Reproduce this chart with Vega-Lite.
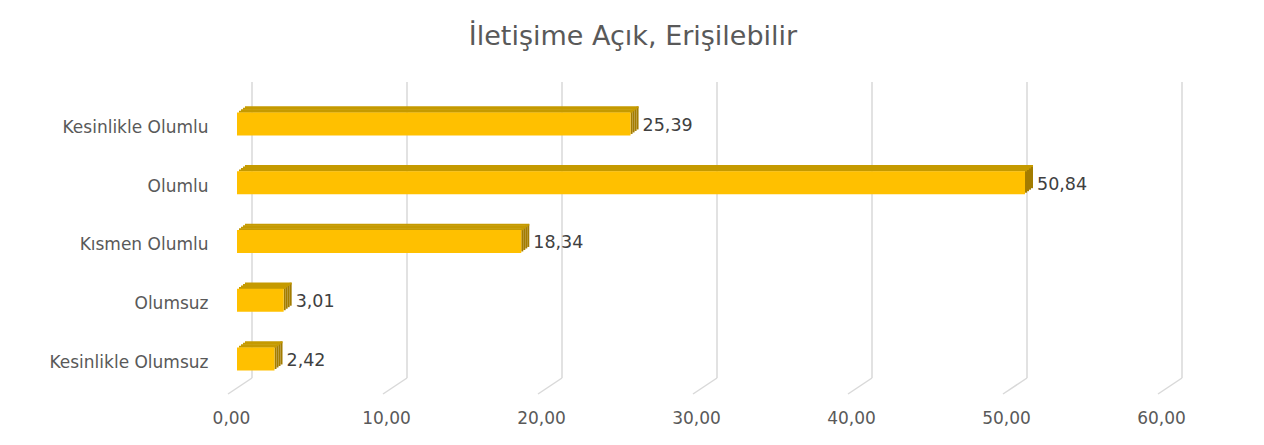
{
  "$schema": "https://vega.github.io/schema/vega-lite/v6.json",
  "width": 930,
  "height": 312,
  "autosize": {"type": "none"},
  "padding": {"left": 237, "top": 82, "right": 97, "bottom": 51},
  "background": "white",
  "config": {
    "view": {"stroke": null},
    "font": "DejaVu Sans",
    "locale": {"number": {"decimal": ",", "thousands": ".", "grouping": [3], "currency": ["", " TL"]}}
  },
  "title": {
    "text": "İletişime Açık, Erişilebilir",
    "fontSize": 27,
    "fontWeight": "normal",
    "color": "#595959",
    "font": "DejaVu Sans",
    "anchor": "middle",
    "frame": "group",
    "dx": -69,
    "offset": 30
  },
  "datasets": {
    "bars": [
      {"kategori": "Kesinlikle Olumlu", "yuzde": 25.39},
      {"kategori": "Olumlu", "yuzde": 50.84},
      {"kategori": "Kısmen Olumlu", "yuzde": 18.34},
      {"kategori": "Olumsuz", "yuzde": 3.01},
      {"kategori": "Kesinlikle Olumsuz", "yuzde": 2.42}
    ],
    "grid": [
      {"g": 0}, {"g": 10}, {"g": 20}, {"g": 30}, {"g": 40}, {"g": 50}, {"g": 60}
    ]
  },
  "resolve": {"scale": {"y": "independent"}},
  "layer": [
    {
      "data": {"name": "grid"},
      "layer": [
        {
          "mark": {"type": "rule", "color": "#d9d9d9", "strokeWidth": 1.5, "xOffset": 15, "x2Offset": 15, "y2Offset": -16},
          "encoding": {
            "x": {
              "field": "g", "type": "quantitative", "scale": {"domain": [0, 60], "nice": false},
              "axis": {
                "title": null, "grid": false, "domain": false, "ticks": false,
                "values": [0, 10, 20, 30, 40, 50, 60], "format": ".2f",
                "labelPadding": 16, "labelOffset": -6, "labelFontSize": 17, "labelFlush": false,
                "labelColor": "#595959", "labelFont": "DejaVu Sans"
              }
            },
            "y": {"datum": 1, "type": "quantitative", "scale": {"domain": [0, 1], "nice": false}, "axis": null},
            "y2": {"datum": 0}
          }
        },
        {
          "mark": {"type": "rule", "color": "#d9d9d9", "strokeWidth": 1.5, "xOffset": -9, "x2Offset": 15, "y2Offset": -16},
          "encoding": {
            "x": {
              "field": "g", "type": "quantitative", "scale": {"domain": [0, 60], "nice": false},
              "axis": {
                "title": null, "grid": false, "domain": false, "ticks": false,
                "values": [0, 10, 20, 30, 40, 50, 60], "format": ".2f",
                "labelPadding": 16, "labelOffset": -6, "labelFontSize": 17, "labelFlush": false,
                "labelColor": "#595959", "labelFont": "DejaVu Sans"
              }
            },
            "x2": {"field": "g"},
            "y": {"datum": 0, "type": "quantitative", "scale": {"domain": [0, 1], "nice": false}, "axis": null},
            "y2": {"datum": 0}
          }
        }
      ]
    },
    {
      "data": {"name": "bars"},
      "encoding": {
        "y": {
          "field": "kategori",
          "type": "nominal",
          "sort": null,
          "scale": {"paddingInner": 0, "paddingOuter": 0.155, "align": 0.69},
          "axis": {
            "title": null,
            "domain": false,
            "ticks": false,
            "labelPadding": 29,
            "labelOffset": 4,
            "labelFontSize": 17,
            "labelColor": "#595959",
            "labelFont": "DejaVu Sans"
          }
        },
        "x": {
          "field": "yuzde",
          "type": "quantitative",
          "scale": {"domain": [0, 60], "nice": false},
          "axis": {
            "title": null, "grid": false, "domain": false, "ticks": false,
            "values": [0, 10, 20, 30, 40, 50, 60], "format": ".2f",
            "labelPadding": 16, "labelOffset": -6, "labelFontSize": 17, "labelFlush": false,
            "labelColor": "#595959", "labelFont": "DejaVu Sans"
          }
        }
      },
      "layer": [
        {"mark": {"type": "bar", "color": "#A37C00", "size": 23, "xOffset": 6, "x2Offset": 8, "yOffset": -6},
         "encoding": {"x2": {"field": "yuzde"}}},
        {"mark": {"type": "bar", "color": "#A37C00", "size": 23, "xOffset": 4, "x2Offset": 6, "yOffset": -4.5},
         "encoding": {"x2": {"field": "yuzde"}}},
        {"mark": {"type": "bar", "color": "#A37C00", "size": 23, "xOffset": 2, "x2Offset": 4, "yOffset": -3},
         "encoding": {"x2": {"field": "yuzde"}}},
        {"mark": {"type": "bar", "color": "#A37C00", "size": 23, "xOffset": 0, "x2Offset": 2, "yOffset": -1.5},
         "encoding": {"x2": {"field": "yuzde"}}},
        {"mark": {"type": "bar", "color": "#C59A00", "size": 2, "xOffset": 8, "x2Offset": 8, "yOffset": -16.75}},
        {"mark": {"type": "bar", "color": "#C59A00", "size": 2, "xOffset": 6, "x2Offset": 6, "yOffset": -15.25}},
        {"mark": {"type": "bar", "color": "#C59A00", "size": 2, "xOffset": 4, "x2Offset": 4, "yOffset": -13.75}},
        {"mark": {"type": "bar", "color": "#C59A00", "size": 2, "xOffset": 2, "x2Offset": 2, "yOffset": -12.25}},
        {"mark": {"type": "bar", "color": "#FFC000", "size": 23}},
        {
          "mark": {"type": "text", "align": "left", "baseline": "middle", "dx": 12, "dy": 2, "fontSize": 17.5, "color": "#404040", "font": "DejaVu Sans"},
          "encoding": {"text": {"field": "yuzde", "type": "quantitative", "format": ".2f"}}
        }
      ]
    }
  ]
}
